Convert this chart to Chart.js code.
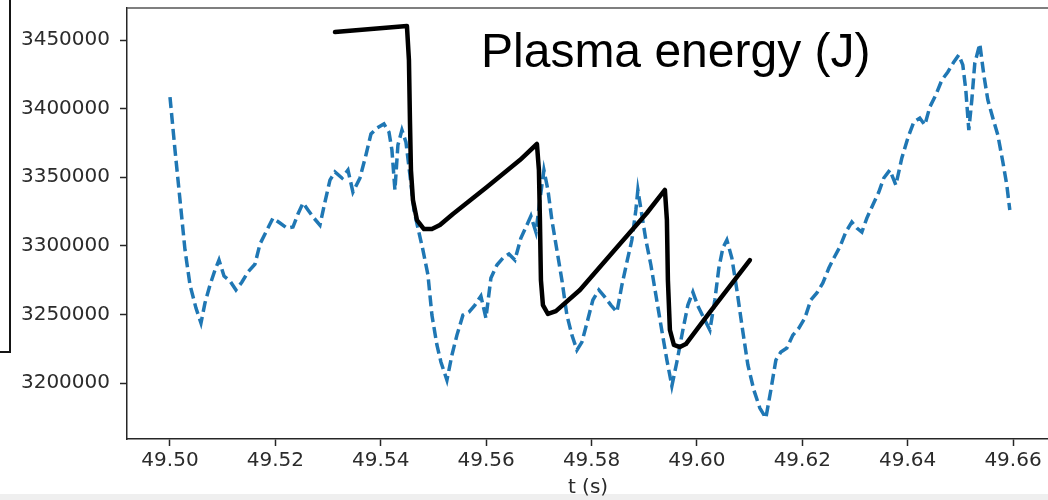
<!DOCTYPE html>
<html>
<head>
<meta charset="utf-8">
<script src="https://cdn.jsdelivr.net/npm/chart.js@4.4.1/dist/chart.umd.min.js"></script>
<style>
  html, body { margin: 0; padding: 0; background: #fff; overflow: hidden; width: 1048px; height: 500px; }
  #wrap { position: relative; width: 1060px; height: 500px; }
  #band { position: absolute; left: 0; top: 494px; width: 1060px; height: 6px; background: #efefef; }
  #c { position: absolute; left: 0; top: 0; }
  #frame { position: absolute; left: -3px; top: -3px; width: 10px; height: 352px; border: 2px solid #151515; }
  #label { position: absolute; left: 481px; top: 27px; font: 48px/48px "Liberation Sans", Arial, sans-serif; color: #000; white-space: nowrap; }
</style>
</head>
<body>
<div id="wrap">
  <div id="band"></div>
  <canvas id="c" width="1060" height="500"></canvas>
  <div id="frame"></div>
  <div id="label">Plasma energy (J)</div>
</div>
<script>
// measured signal (dashed blue)
const tMeas = [49.50000,49.50095,49.50190,49.50285,49.50380,49.50493,49.50588,49.50664,49.50759,49.50854,
  49.50930,49.51025,49.51139,49.51252,49.51366,49.51480,49.51613,49.51708,49.51841,49.51954,
  49.52087,49.52220,49.52334,49.52429,49.52524,49.52619,49.52732,49.52846,49.52941,49.53036,
  49.53131,49.53264,49.53378,49.53472,49.53605,49.53719,49.53814,49.53928,49.54061,49.54156,
  49.54212,49.54269,49.54326,49.54402,49.54478,49.54554,49.54630,49.54706,49.54801,49.54896,
  49.54971,49.55066,49.55142,49.55256,49.55351,49.55446,49.55560,49.55674,49.55787,49.55901,
  49.55996,49.56091,49.56205,49.56319,49.56433,49.56546,49.56660,49.56774,49.56850,49.56945,
  49.57021,49.57097,49.57173,49.57248,49.57343,49.57438,49.57533,49.57628,49.57723,49.57818,
  49.57913,49.58026,49.58140,49.58254,49.58368,49.58482,49.58577,49.58672,49.58766,49.58842,
  49.58880,49.58956,49.59032,49.59127,49.59222,49.59317,49.59431,49.59525,49.59620,49.59734,
  49.59829,49.59924,49.60019,49.60133,49.60247,49.60341,49.60417,49.60493,49.60569,49.60664,
  49.60759,49.60854,49.60968,49.61081,49.61195,49.61309,49.61404,49.61499,49.61594,49.61708,
  49.61821,49.61935,49.62049,49.62163,49.62277,49.62391,49.62505,49.62600,49.62713,49.62827,
  49.62941,49.63036,49.63131,49.63226,49.63339,49.63453,49.63548,49.63662,49.63776,49.63890,
  49.64004,49.64117,49.64231,49.64326,49.64421,49.64535,49.64649,49.64763,49.64877,49.64971,
  49.65047,49.65104,49.65161,49.65218,49.65275,49.65370,49.65446,49.65522,49.65617,49.65712,
  49.65807,49.65882,49.65939];
const eMeas = [3408400,3369800,3333400,3296900,3271400,3254600,3243700,3258300,3271400,3282300,
  3289600,3278000,3274300,3267800,3273600,3280900,3286700,3301300,3311500,3320200,
  3316600,3312900,3313700,3323200,3331200,3326100,3320200,3315100,3331900,3347900,
  3353800,3349400,3355200,3339200,3349400,3366200,3381500,3385800,3388800,3382900,
  3369800,3340700,3373500,3384400,3375600,3351600,3326100,3312900,3296900,3278700,
  3249500,3227700,3215300,3202100,3220400,3234900,3249500,3251700,3256800,3263400,
  3247300,3276500,3286000,3291100,3294000,3289600,3305700,3315100,3321700,3310000,
  3333400,3355200,3340700,3318800,3296900,3275000,3249500,3234900,3224000,3229800,
  3243700,3260500,3267800,3262600,3256800,3251700,3271400,3288200,3304200,3326100,
  3340700,3322400,3304200,3286000,3264100,3242200,3216700,3197800,3215300,3238600,
  3256800,3266300,3256100,3247300,3238600,3260500,3283800,3298400,3304200,3291100,
  3267800,3242200,3213100,3194900,3181700,3174400,3194900,3216700,3222600,3225500,
  3234900,3240000,3247300,3260500,3265600,3272900,3283800,3291100,3299100,3310000,
  3317300,3312900,3310000,3320200,3329700,3339200,3349400,3355200,3344300,3364000,
  3378600,3390200,3393100,3388000,3401200,3409900,3420800,3426700,3434000,3439100,
  3431800,3413600,3384400,3406300,3433200,3447100,3424500,3406300,3393100,3380700,
  3361100,3344300,3326100];

// model sawtooth (solid black)
const tModel = [49.53131,49.54497,49.54535,49.54554,49.54573,49.54611,49.54687,49.54820,49.54971,49.55123,
  49.55370,49.56015,49.56641,49.56964,49.57002,49.57021,49.57040,49.57078,49.57173,49.57324,
  49.57780,49.58406,49.59051,49.59393,49.59431,49.59450,49.59488,49.59564,49.59677,49.59791,
  49.60247,49.61006];
const eModel = [3455800,3460200,3435400,3391700,3355200,3333400,3318800,3312200,3312200,3315100,
  3323200,3342800,3362500,3374200,3355200,3318800,3275000,3256800,3250300,3252400,
  3267800,3295500,3323900,3340700,3318800,3275000,3238600,3227700,3226200,3228400,
  3251700,3289600];

const xTicks = [49.50, 49.52, 49.54, 49.56, 49.58, 49.60, 49.62, 49.64, 49.66];
const yTicks = [3200000, 3250000, 3300000, 3350000, 3400000, 3450000];

const pts = (xs, ys) => xs.map((x, i) => ({x, y: ys[i]}));

const tickFont = {family: 'DejaVu Sans', size: 20};
const tc = '#2b2b2b', ac = '#262626';

const topSpine = {
  id: 'topSpine',
  afterDraw(chart) {
    const {ctx, chartArea: a} = chart;
    ctx.save();
    ctx.strokeStyle = '#555';
    ctx.lineWidth = 1.5;
    ctx.beginPath();
    ctx.moveTo(a.left, a.top);
    ctx.lineTo(a.right, a.top);
    ctx.stroke();
    ctx.restore();
  }
};

new Chart(document.getElementById('c'), {
  type: 'scatter',
  data: {
    datasets: [
      {label: 'model', data: pts(tModel, eModel), showLine: true, borderColor: '#000', borderWidth: 4.5,
       borderJoinStyle: 'round', borderCapStyle: 'round', pointRadius: 0, tension: 0, order: 0},
      {label: 'measured', data: pts(tMeas, eMeas), showLine: true, borderColor: '#1f77b4', borderWidth: 3.5,
       borderDash: [11, 5], pointRadius: 0, tension: 0, order: 1}
    ]
  },
  options: {
    responsive: false,
    animation: false,
    layout: {padding: {top: 8, right: 11, left: 0, bottom: 0}},
    plugins: {legend: {display: false}, tooltip: {enabled: false}},
    scales: {
      x: {
        type: 'linear', min: 49.49184, max: 49.66683,
        afterBuildTicks: s => { s.ticks = xTicks.map(v => ({value: v})); },
        afterFit: s => { s.height = 61; s.paddingLeft = 0; s.paddingRight = 0; },
        grid: {display: true, drawOnChartArea: false, drawTicks: true, tickLength: 7, tickColor: ac, tickWidth: 1.5},
        border: {display: true, color: ac, width: 1.5},
        ticks: {color: tc, font: tickFont, padding: 3, maxRotation: 0, autoSkip: false, callback: v => v.toFixed(2)},
        title: {display: true, text: 't (s)', color: tc, font: tickFont, padding: {top: 0, bottom: 0}}
      },
      y: {
        min: 3159184, max: 3473324,
        afterBuildTicks: s => { s.ticks = yTicks.map(v => ({value: v})); },
        afterFit: s => { s.width = 127; s.paddingTop = 0; s.paddingBottom = 0; },
        grid: {display: true, drawOnChartArea: false, drawTicks: true, tickLength: 7, tickColor: ac, tickWidth: 1.5},
        border: {display: true, color: ac, width: 1.5},
        ticks: {color: tc, font: tickFont, padding: 10, autoSkip: false, callback: v => String(Math.round(v))}
      }
    }
  },
  plugins: [topSpine]
});
</script>
</body>
</html>
